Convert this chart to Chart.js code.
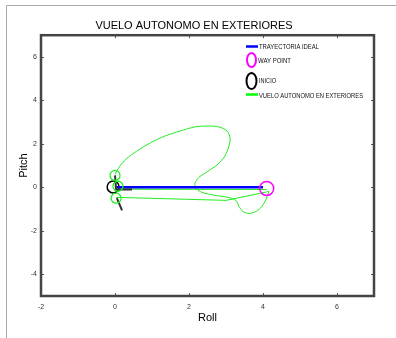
<!DOCTYPE html>
<html lang="es">
<head>
    <meta charset="UTF-8">
    <title>Vuelo autonomo en exteriores</title>
    <script src="https://cdn.jsdelivr.net/npm/chart.js"></script>
    <style>
        html, body { margin: 0; padding: 0; background: #fff; }
        canvas { display: block; }
    </style>
</head>
<body>
<canvas id="vueloChart" width="396" height="338"></canvas>

<script>
    // Tick labels
    const xTicks = [-2, 0, 2, 4, 6];
    const yTicks = [-4, -2, 0, 2, 4, 6];

    // Ideal trajectory (start -> way point)
    const idealX = [0, 4];
    const idealY = [0, 0];

    // Autonomous flight, main path
    const flightX = [0, 0.11, 0.3, 0.59, 0.95, 1.35, 1.76, 2.16, 2.51, 2.81, 3.03, 3.11, 3.08, 2.97, 2.78, 2.51, 2.27, 2.16, 2.19, 2.35, 2.7, 3.05, 3.27, 3.35, 3.46, 3.62, 3.81, 3.97, 4.08, 4.16];
    const flightY = [0.6, 0.93, 1.3, 1.67, 2.04, 2.36, 2.59, 2.78, 2.82, 2.78, 2.59, 2.27, 1.9, 1.44, 1.06, 0.74, 0.46, 0.19, -0.05, -0.23, -0.37, -0.46, -0.6, -0.88, -1.11, -1.2, -1.11, -0.88, -0.56, -0.19];

    // Return leg and direct leg
    const returnX = [4.16, 3.0, 0.03];
    const returnY = [-0.19, -0.6, -0.46];
    const directX = [0.08, 4.1];
    const directY = [-0.08, -0.1];

    // Start markers of the flight (green circles)
    const startX = [0, 0.08, 0.03];
    const startY = [0.55, 0.05, -0.5];

    // Orientation lines at the start (dark grey)
    const axisX = [0, 0.03, 0.46, null, 0.05, 0.19];
    const axisY = [0.55, -0.1, -0.1, null, -0.5, -1.06];

    // Inicio and way point
    const inicioX = [-0.05];
    const inicioY = [0.02];
    const wayX = [4.1];
    const wayY = [-0.05];

    const pts = (xs, ys) => xs.map((x, i) => ({ x: x === null ? 0.1 : x, y: ys[i] }));

    const FONT = "'Liberation Sans', Arial, sans-serif";

    // Frame, box, inward ticks and legend
    const decoPlugin = {
        id: 'deco',
        beforeDraw(chart) {
            const c = chart.ctx;
            c.save();
            c.fillStyle = '#fff';
            c.fillRect(0, 0, chart.width, chart.height);
            c.strokeStyle = '#aaa';
            c.lineWidth = 1;
            c.beginPath();
            c.moveTo(6.5, 338);
            c.lineTo(6.5, 5.5);
            c.lineTo(396, 5.5);
            c.stroke();
            c.restore();
        },
        afterDraw(chart) {
            const c = chart.ctx;
            const a = chart.chartArea;
            const sx = chart.scales.x, sy = chart.scales.y;
            c.save();
            // inward ticks
            c.strokeStyle = '#555';
            c.lineWidth = 1;
            c.beginPath();
            xTicks.forEach(v => {
                const px = Math.round(sx.getPixelForValue(v)) + 0.5;
                c.moveTo(px, a.bottom); c.lineTo(px, a.bottom - 3);
                c.moveTo(px, a.top); c.lineTo(px, a.top + 3);
            });
            yTicks.forEach(v => {
                const py = Math.round(sy.getPixelForValue(v)) + 0.5;
                c.moveTo(a.left, py); c.lineTo(a.left + 3, py);
                c.moveTo(a.right, py); c.lineTo(a.right - 3, py);
            });
            c.stroke();
            // box
            c.strokeStyle = '#444';
            c.lineWidth = 2.5;
            c.strokeRect(a.left, a.top, a.right - a.left, a.bottom - a.top);

            // legend (condensed text)
            c.font = '7px ' + FONT;
            c.fillStyle = '#111';
            c.textBaseline = 'middle';
            c.textAlign = 'left';
            c.lineWidth = 2.5;
            c.strokeStyle = '#0000ff';
            c.beginPath(); c.moveTo(246, 46.5); c.lineTo(258, 46.5); c.stroke();
            c.fillText('TRAYECTORIA IDEAL', 259, 47.5, 60);

            c.lineWidth = 2;
            c.strokeStyle = '#ff00ff';
            c.beginPath(); c.ellipse(251.5, 60, 4.5, 7, 0, 0, Math.PI * 2); c.stroke();
            c.fillText('WAY POINT', 258, 61.5, 33);

            c.strokeStyle = '#000';
            c.beginPath(); c.ellipse(251.5, 81, 5, 8, 0, 0, Math.PI * 2); c.stroke();
            c.fillText('INICIO', 259, 81.5, 17);

            c.lineWidth = 2.5;
            c.strokeStyle = '#00ff00';
            c.beginPath(); c.moveTo(246, 94.5); c.lineTo(258, 94.5); c.stroke();
            c.fillText('VUELO AUTONOMO EN EXTERIORES', 259, 96, 104);
            c.restore();
        }
    };

    const ctx = document.getElementById('vueloChart').getContext('2d');
    const chart = new Chart(ctx, {
        type: 'scatter',
        data: {
            datasets: [
                {
                    label: 'INICIO',
                    data: pts(inicioX, inicioY),
                    pointStyle: 'circle',
                    pointRadius: 6,
                    pointBorderWidth: 1.5,
                    pointBorderColor: '#000',
                    pointBackgroundColor: 'rgba(0,0,0,0)',
                    order: 5
                },
                {
                    label: 'VUELO AUTONOMO EN EXTERIORES',
                    data: pts(flightX, flightY),
                    showLine: true,
                    borderColor: '#22ee22',
                    borderWidth: 1,
                    tension: 0.3,
                    pointRadius: 0,
                    order: 4
                },
                {
                    label: 'regreso',
                    data: pts(returnX, returnY),
                    showLine: true,
                    borderColor: '#22ee22',
                    borderWidth: 1,
                    pointRadius: 0,
                    order: 4
                },
                {
                    label: 'directo',
                    data: pts(directX, directY),
                    showLine: true,
                    borderColor: '#22ee22',
                    borderWidth: 1.2,
                    pointRadius: 0,
                    order: 4
                },
                {
                    label: 'TRAYECTORIA IDEAL',
                    data: pts(idealX, idealY),
                    showLine: true,
                    borderColor: '#0000ff',
                    borderWidth: 2.5,
                    pointRadius: 0,
                    order: 3
                },
                {
                    label: 'ejes',
                    data: pts(axisX, axisY),
                    showLine: true,
                    spanGaps: false,
                    borderColor: '#333',
                    borderWidth: 2,
                    pointRadius: 0,
                    order: 2
                },
                {
                    label: 'inicio vuelo',
                    data: pts(startX, startY),
                    pointStyle: 'circle',
                    pointRadius: 5,
                    pointBorderWidth: 1.3,
                    pointBorderColor: '#22ee22',
                    pointBackgroundColor: 'rgba(0,0,0,0)',
                    order: 1
                },
                {
                    label: 'WAY POINT',
                    data: pts(wayX, wayY),
                    pointStyle: 'circle',
                    pointRadius: 7,
                    pointBorderWidth: 1.5,
                    pointBorderColor: '#ff00ff',
                    pointBackgroundColor: 'rgba(0,0,0,0)',
                    order: 0
                }
            ]
        },
        options: {
            responsive: false,
            animation: false,
            events: [],
            layout: { padding: { left: 14, right: 22, top: 0, bottom: 0 } },
            plugins: {
                legend: { display: false },
                tooltip: { enabled: false },
                title: {
                    display: true,
                    text: 'VUELO AUTONOMO EN EXTERIORES',
                    color: '#000',
                    font: { family: FONT, size: 11, weight: 'normal' },
                    padding: { top: 19, bottom: 3 }
                }
            },
            scales: {
                x: {
                    type: 'linear',
                    min: -2,
                    max: 7,
                    afterBuildTicks: s => { s.ticks = xTicks.map(v => ({ value: v })); },
                    afterFit: s => { s.height = 42; },
                    grid: { display: false, drawTicks: false },
                    border: { display: false },
                    ticks: { color: '#333', font: { family: FONT, size: 7 }, padding: 7, maxRotation: 0 },
                    title: {
                        display: true, text: 'Roll', color: '#000',
                        font: { family: FONT, size: 11 },
                        padding: { top: 0, bottom: 13 }
                    }
                },
                y: {
                    type: 'linear',
                    min: -5,
                    max: 7,
                    afterBuildTicks: s => { s.ticks = yTicks.map(v => ({ value: v })); },
                    afterFit: s => { s.width = 27; },
                    grid: { display: false, drawTicks: false },
                    border: { display: false },
                    ticks: { color: '#333', font: { family: FONT, size: 7 }, padding: 4 },
                    title: {
                        display: true, text: 'Pitch', color: '#000',
                        font: { family: FONT, size: 11 },
                        padding: { top: 3, bottom: 0 }
                    }
                }
            }
        },
        plugins: [decoPlugin]
    });
</script>
</body>
</html>
